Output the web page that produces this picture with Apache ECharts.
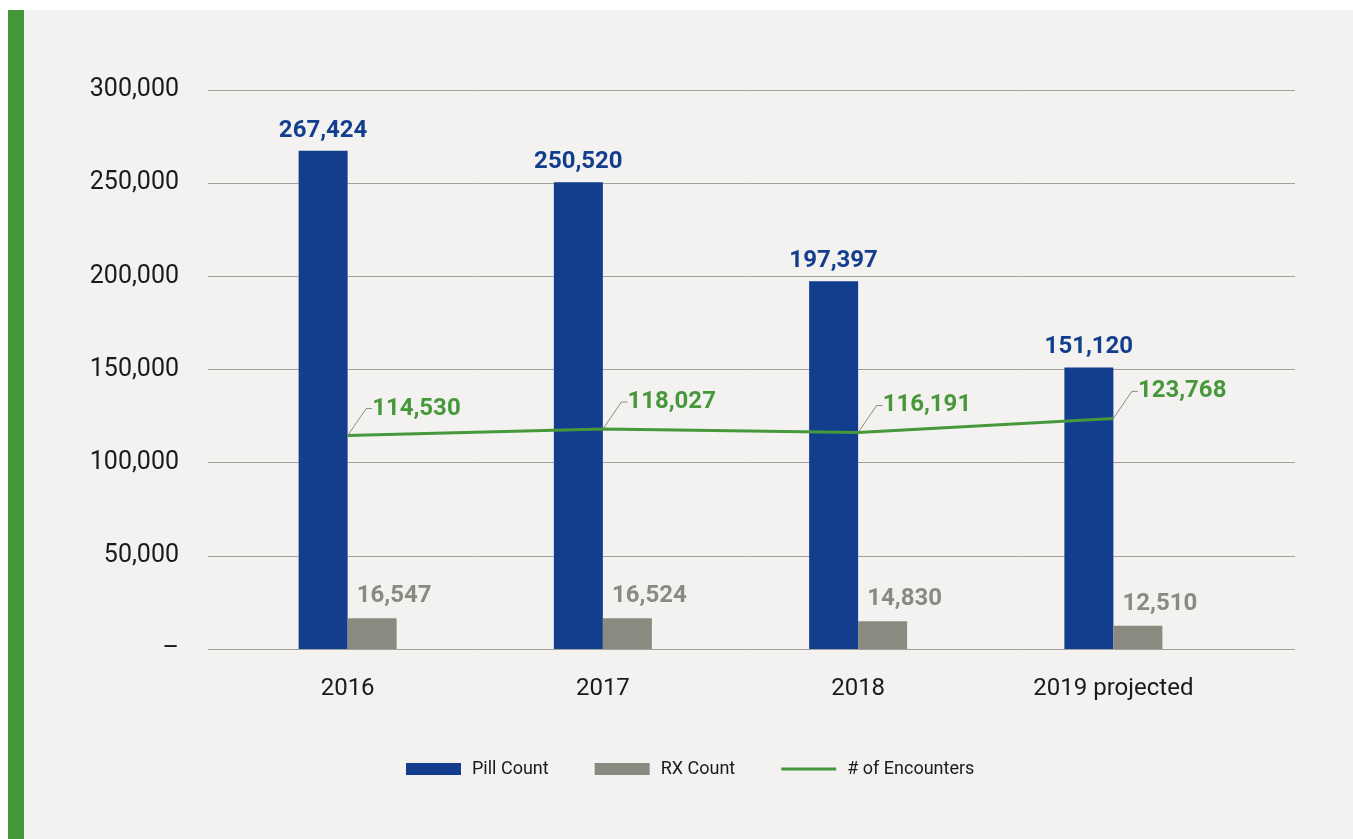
<!DOCTYPE html>
<html><head><meta charset="utf-8">
<script src="https://cdn.jsdelivr.net/npm/echarts@6/dist/echarts.min.js"></script>
<style>
html,body{margin:0;padding:0;background:#ffffff;width:1353px;height:839px;overflow:hidden}
#panel{position:absolute;left:8px;top:10px;right:0;bottom:0;background:#f3f2f0;border-left:16px solid #43983a}
#chart{position:absolute;left:0;top:0;width:1353px;height:839px}
</style></head>
<body>
<div id="panel"></div>
<div id="chart"></div>
<script>
var categories = ['2016', '2017', '2018', '2019 projected'];
var pillCount = [267424, 250520, 197397, 151120];
var rxCount = [16547, 16524, 14830, 12510];
var encounters = [114530, 118027, 116191, 123768];
var yTicks = [0, 50000, 100000, 150000, 200000, 250000, 300000];

var BLUE = '#123e8d', GRAY = '#8a8a81', GREEN = '#46983b';
var FONT = 'Roboto';
function fmt(v){ return v === 0 ? '–' : v.toLocaleString('en-US'); }

var chart = echarts.init(document.getElementById('chart'), null, {renderer:'canvas'});
chart.setOption({
  backgroundColor: 'transparent',
  textStyle: {fontFamily: FONT},
  grid: [
    {left: 208, right: 58, top: 90, bottom: 190},
    {left: 220, right: 112, top: 90, bottom: 190}
  ],
  xAxis: [
    {gridIndex: 0, type: 'category', data: categories, show: false},
    {gridIndex: 1, type: 'category', data: categories,
     axisLine: {show: false}, axisTick: {show: false},
     axisLabel: {color: '#1a1a1a', fontSize: 24, margin: 28, fontFamily: FONT}}
  ],
  yAxis: [
    {gridIndex: 0, type: 'value', min: yTicks[0], max: yTicks[yTicks.length-1], interval: yTicks[1]-yTicks[0],
     axisLine: {show: false}, axisTick: {show: false},
     axisLabel: {color: '#1a1a1a', fontSize: 25, margin: 29, fontFamily: FONT, padding: [4,0,0,0], formatter: fmt},
     splitLine: {show: true, lineStyle: {color: '#a3a19b', width: 1}}},
    {gridIndex: 1, type: 'value', min: yTicks[0], max: yTicks[yTicks.length-1], interval: yTicks[1]-yTicks[0], show: false,
     splitLine: {show: false}}
  ],
  legend: {
    top: 760, left: 406, itemWidth: 55, itemHeight: 12, itemGap: 46, padding: 0,
    textStyle: {color: '#1a1a1a', fontSize: 18, fontFamily: FONT, padding: [0,0,0,6]},
    data: [
      {name: 'Pill Count', icon: 'rect'},
      {name: 'RX Count', icon: 'rect'},
      {name: '# of Encounters', icon: 'path://M0,0H55V3H0Z'}
    ]
  },
  series: [
    {name: 'Pill Count', type: 'bar', xAxisIndex: 1, yAxisIndex: 1, data: pillCount,
     barWidth: 49, barGap: '0%', itemStyle: {color: BLUE},
     label: {show: true, position: 'top', distance: 8, color: BLUE, fontSize: 24, fontWeight: 'bold', fontFamily: FONT,
             formatter: function(p){ return fmt(p.value); }}},
    {name: 'RX Count', type: 'bar', xAxisIndex: 1, yAxisIndex: 1, data: rxCount,
     barWidth: 49, itemStyle: {color: GRAY},
     label: {show: true, position: 'top', distance: 10, offset: [22, 0], color: GRAY, fontSize: 24, fontWeight: 'bold', fontFamily: FONT,
             formatter: function(p){ return fmt(p.value); }}},
    {name: '# of Encounters', type: 'line', xAxisIndex: 1, yAxisIndex: 1, data: encounters,
     symbol: 'circle', symbolSize: 1, showSymbol: true, z: 5,
     lineStyle: {color: GREEN, width: 3}, itemStyle: {color: GREEN},
     label: {show: true, position: 'right', distance: 0, color: GREEN, fontSize: 24, fontWeight: 'bold', fontFamily: FONT,
             padding: [0,0,0,10],
             formatter: function(p){ return fmt(p.value); }},
     labelLayout: {dx: 14, dy: -27},
     labelLine: {show: true, length2: 6, lineStyle: {color: '#8a8a81', width: 1}}}
  ]
});
</script>
</body></html>
